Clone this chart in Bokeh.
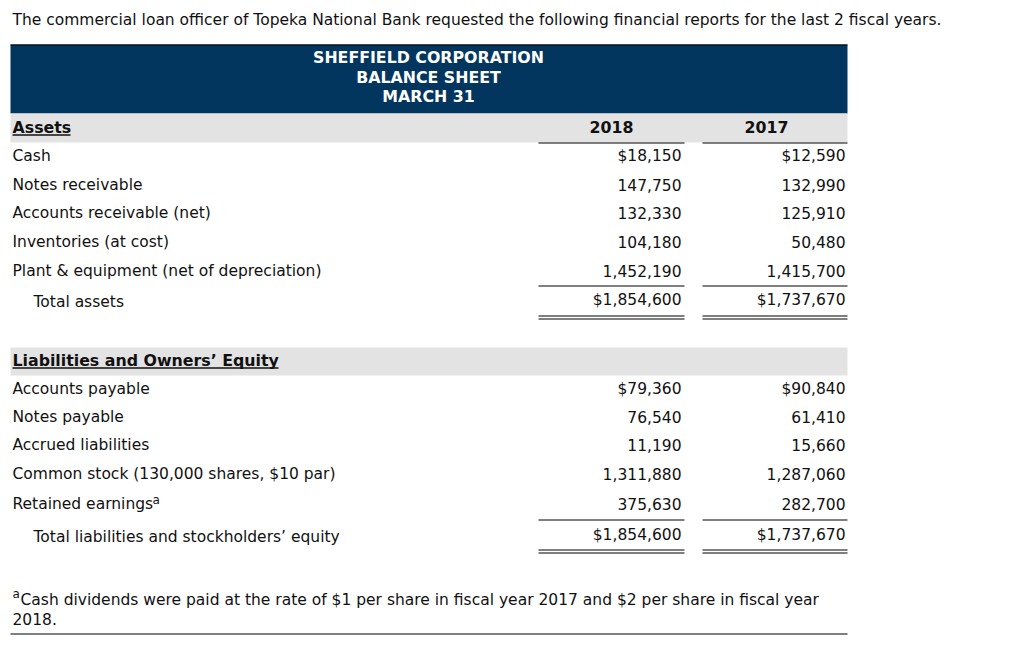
from bokeh.plotting import figure
from bokeh.models import Range1d
from bokeh.core.properties import value
from bokeh.embed import file_html
from bokeh.resources import INLINE

intro = "The commercial loan officer of Topeka National Bank requested the following financial reports for the last 2 fiscal years."
header_lines = ["SHEFFIELD CORPORATION", "BALANCE SHEET", "MARCH 31"]
years = ["2018", "2017"]

asset_labels = ["Cash", "Notes receivable", "Accounts receivable (net)", "Inventories (at cost)",
                "Plant & equipment (net of depreciation)"]
assets_2018 = [18150, 147750, 132330, 104180, 1452190]
assets_2017 = [12590, 132990, 125910, 50480, 1415700]
total_assets = [1854600, 1737670]

liab_labels = ["Accounts payable", "Notes payable", "Accrued liabilities",
               "Common stock (130,000 shares, $10 par)", "Retained earnings"]
liab_2018 = [79360, 76540, 11190, 1311880, 375630]
liab_2017 = [90840, 61410, 15660, 1287060, 282700]
total_liab = [1854600, 1737670]

footnote = ["Cash dividends were paid at the rate of $1 per share in fiscal year 2017 and $2 per share in fiscal year",
            "2018."]

FONT = "DejaVu Sans"
FS = "15.5px"
FSB = "15.8px"
NAVY = "#03365f"
GRAY = "#e3e3e3"
TXT = "#111111"

p = figure(width=1008, height=638, output_backend="svg", toolbar_location=None,
           x_range=Range1d(0, 1008), y_range=Range1d(638, 0), min_border=0)
p.axis.visible = False
p.grid.visible = False
p.outline_line_color = None
p.background_fill_color = "white"
p.border_fill_color = "white"


def txt(xs, ys, texts, align="left", bold=False, color=TXT, size=None):
    if size is None:
        size = FSB if bold else FS
    p.text(x=xs, y=ys, text=texts, text_font=value(FONT), text_font_size=size,
           text_align=align, text_baseline="middle", text_color=color,
           text_font_style="bold" if bold else "normal")


def fmt(v, dollar):
    s = f"{v:,}"
    return "$" + s if dollar else s


# intro
txt([12], [19], [intro])

# header block
p.quad(left=[10], right=[847], top=[44], bottom=[113], fill_color=NAVY, line_color=None)
p.segment(x0=[10], x1=[847], y0=[44.5], y1=[44.5], line_color="black", line_width=1)
txt([428] * 3, [57, 77, 96], header_lines, align="center", bold=True, color="white")

# assets section
p.quad(left=[10], right=[847], top=[113], bottom=[142], fill_color=GRAY, line_color=None)
txt([12], [127], ["Assets"], bold=True)
p.segment(x0=[12], x1=[70], y0=[134.5], y1=[134.5], line_color=TXT, line_width=1.3)
txt([611, 766], [126, 126], years, align="center", bold=True)
p.segment(x0=[538, 702], x1=[684, 847], y0=[142.5, 142.5], y1=[142.5, 142.5], line_color="black", line_width=1)

a_rows = [155, 184, 212, 241, 270]
txt([12] * 5, a_rows, asset_labels)
txt([681] * 5, a_rows, [fmt(v, i == 0) for i, v in enumerate(assets_2018)], align="right")
txt([845] * 5, a_rows, [fmt(v, i == 0) for i, v in enumerate(assets_2017)], align="right")
p.segment(x0=[538, 702], x1=[684, 847], y0=[285.5, 285.5], y1=[285.5, 285.5], line_color="black", line_width=1)
txt([33], [301], ["Total assets"])
txt([681, 845], [299, 299], [fmt(v, True) for v in total_assets], align="right")
for yy in (315.5, 318.5):
    p.segment(x0=[538, 702], x1=[684, 847], y0=[yy, yy], y1=[yy, yy], line_color="black", line_width=1.2)

# liabilities section
p.quad(left=[10], right=[847], top=[347], bottom=[375], fill_color=GRAY, line_color=None)
txt([12], [360], ["Liabilities and Owners\u2019 Equity"], bold=True)
p.segment(x0=[12], x1=[278], y0=[367.5], y1=[367.5], line_color=TXT, line_width=1.3)

l_rows = [388, 416, 444, 473, 503]
txt([12] * 5, l_rows, liab_labels)
txt([152], [499], ["a"], size="12px")
txt([681] * 5, l_rows, [fmt(v, i == 0) for i, v in enumerate(liab_2018)], align="right")
txt([845] * 5, l_rows, [fmt(v, i == 0) for i, v in enumerate(liab_2017)], align="right")
p.segment(x0=[538, 702], x1=[684, 847], y0=[519.5, 519.5], y1=[519.5, 519.5], line_color="black", line_width=1)
txt([33], [536], ["Total liabilities and stockholders\u2019 equity"])
txt([681, 845], [534, 534], [fmt(v, True) for v in total_liab], align="right")
for yy in (549.5, 552.5):
    p.segment(x0=[538, 702], x1=[684, 847], y0=[yy, yy], y1=[yy, yy], line_color="black", line_width=1.2)

# footnote
txt([12], [593], ["a"], size="12px")
txt([20, 12], [599, 618], footnote)
p.segment(x0=[10], x1=[847], y0=[633.5], y1=[633.5], line_color="black", line_width=1.2)

open("out.html", "w").write(file_html(p, INLINE))
